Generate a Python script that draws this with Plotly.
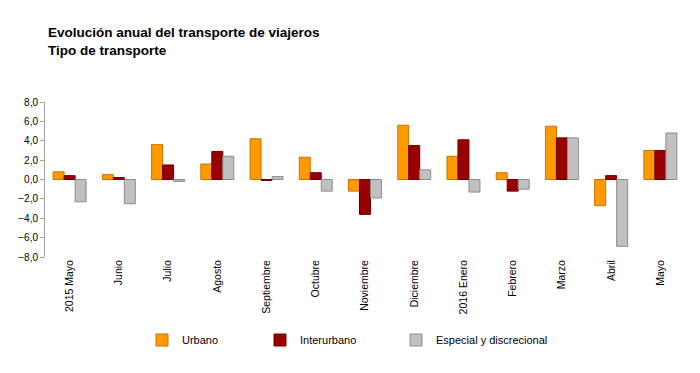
import plotly.graph_objects as go

categories = ["2015 Mayo", "Junio", "Julio", "Agosto", "Septiembre", "Octubre",
              "Noviembre", "Diciembre", "2016 Enero", "Febrero", "Marzo", "Abril", "Mayo"]
urbano = [0.8, 0.5, 3.6, 1.6, 4.2, 2.3, -1.2, 5.6, 2.4, 0.7, 5.5, -2.7, 3.0]
interurbano = [0.4, 0.2, 1.5, 2.9, -0.1, 0.7, -3.6, 3.5, 4.1, -1.2, 4.3, 0.4, 3.0]
especial = [-2.3, -2.5, -0.2, 2.4, 0.3, -1.2, -1.9, 1.0, -1.3, -1.0, 4.3, -6.9, 4.8]
y_ticks = [-8, -6, -4, -2, 0, 2, 4, 6, 8]

font = "Arial, Liberation Sans, sans-serif"

# page body has an 8px margin, so the figure is sized/offset to compensate
W, H = 692, 357
top_m, bot_m, left_m, right_m = 94, 108, 37, 15
plot_h = H - top_m - bot_m
plot_w = W - left_m - right_m
leg_y = -83 / plot_h

fig = go.Figure()
fig.add_trace(go.Bar(x=categories, y=urbano, name="Urbano", legend="legend",
                     marker=dict(color="#FF9900", line=dict(color="#C87400", width=1))))
fig.add_trace(go.Bar(x=categories, y=interurbano, name="Interurbano", legend="legend2",
                     marker=dict(color="#990000", line=dict(color="#6E0000", width=1))))
fig.add_trace(go.Bar(x=categories, y=especial, name="Especial y discrecional", legend="legend3",
                     marker=dict(color="#C0C0C0", line=dict(color="#8C8C8C", width=1))))

def leg(xpx):
    return dict(orientation="h", x=(xpx - 45) / plot_w, xanchor="left", y=leg_y, yanchor="middle",
                font=dict(family=font, size=11, color="black"),
                itemwidth=30, bgcolor="rgba(0,0,0,0)")

fig.update_layout(
    width=W, height=H,
    margin=dict(l=left_m, r=right_m, t=top_m, b=bot_m, autoexpand=False),
    paper_bgcolor="white", plot_bgcolor="white",
    separators=",.",
    barmode="group", bargap=0.33, bargroupgap=0,
    font=dict(family=font, size=11, color="black"),
    title=dict(text="<b>Evolución anual del transporte de viajeros<br>Tipo de transporte</b>",
               x=40/W, xanchor="left", y=1 - 29/H, yanchor="top",
               font=dict(family=font, size=13.5, color="black")),
    showlegend=True,
    legend=leg(142),
    legend2=leg(260),
    legend3=leg(396),
    xaxis=dict(type="category", categoryorder="array", categoryarray=categories,
               tickangle=-90, ticks="", showline=False, showgrid=False, automargin=False,
               tickfont=dict(family=font, size=10.5, color="black")),
    xaxis2=dict(matches="x", overlaying="x", anchor="free",
                position=(bot_m + plot_h / 2) / H,
                showline=True, linecolor="#A0A0A0", linewidth=1, automargin=False,
                ticks="outside", tickson="boundaries", ticklen=4, tickcolor="#A0A0A0",
                showticklabels=False, showgrid=False),
    yaxis=dict(range=[-8, 8], tickvals=y_ticks, tickformat=".1f", automargin=False,
               showline=True, linecolor="#A0A0A0", linewidth=1,
               ticks="outside", ticklen=4, tickcolor="#A0A0A0",
               showgrid=False, zeroline=False,
               tickfont=dict(family=font, size=10, color="black")),
)
fig.write_html("out.html")
